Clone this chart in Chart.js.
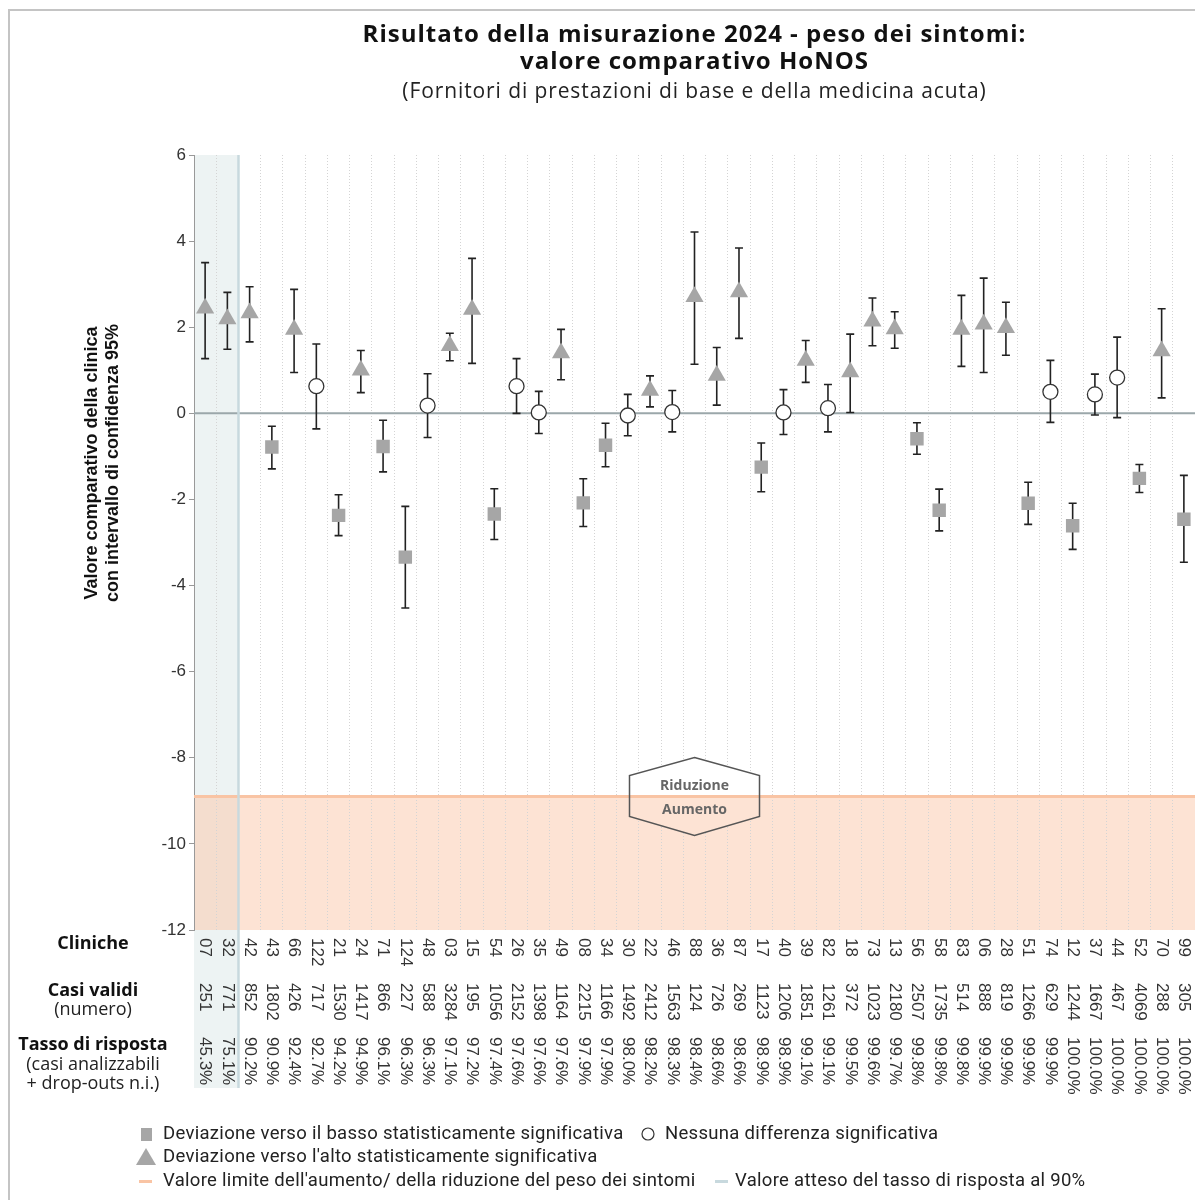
<!DOCTYPE html>
<html>
<head>
<meta charset="utf-8">
<script src="https://cdn.jsdelivr.net/npm/chart.js@4/dist/chart.umd.min.js"></script>
<style>
  body { margin: 0; background: #fff; }
  canvas { display: block; }
</style>
</head>
<body>
<canvas id="chart" width="1195" height="1200"></canvas>
<script>
// clinics, sorted by response rate
const clinics = ['07','32','42','43','66','122','21','24','71','124','48','03','15','54','26','35','49','08','34','30','22','46','88','36','87','17','40','39','82','18','73','13','56','58','83','06','28','51','74','12','37','44','52','70','99'];
const validCases = [251,771,852,1802,426,717,1530,1417,866,227,588,3284,195,1056,2152,1398,1164,2215,1166,1492,2412,1563,124,726,269,1123,1206,1851,1261,372,1023,2180,2507,1735,514,888,819,1266,629,1244,1667,467,4069,288,305];
const responseRates = [45.3,75.1,90.2,90.9,92.4,92.7,94.2,94.9,96.1,96.3,96.3,97.1,97.2,97.4,97.6,97.6,97.6,97.9,97.9,98.0,98.2,98.3,98.4,98.6,98.6,98.9,98.9,99.1,99.1,99.5,99.6,99.7,99.8,99.8,99.8,99.9,99.9,99.9,99.9,100.0,100.0,100.0,100.0,100.0,100.0];

// comparative value and 95% CI
const values = [2.44,2.19,2.33,-0.78,1.95,0.63,-2.37,1.0,-0.77,-3.34,0.18,1.57,2.41,-2.34,0.63,0.02,1.40,-2.08,-0.74,-0.05,0.53,0.03,2.71,0.88,2.82,-1.25,0.02,1.23,0.12,0.96,2.14,1.96,-0.59,-2.25,1.95,2.07,1.99,-2.09,0.50,-2.61,0.44,0.83,-1.51,1.45,-2.46];
const lower = [1.27,1.49,1.66,-1.29,0.95,-0.36,-2.84,0.48,-1.36,-4.52,-0.56,1.22,1.16,-2.93,0.0,-0.47,0.78,-2.63,-1.24,-0.52,0.15,-0.43,1.14,0.19,1.74,-1.82,-0.49,0.72,-0.43,0.02,1.57,1.51,-0.95,-2.73,1.09,0.95,1.35,-2.58,-0.21,-3.16,-0.04,-0.10,-1.84,0.36,-3.46];
const upper = [3.5,2.81,2.94,-0.30,2.88,1.61,-1.89,1.46,-0.16,-2.16,0.92,1.86,3.6,-1.75,1.27,0.51,1.95,-1.52,-0.23,0.44,0.87,0.53,4.21,1.53,3.84,-0.69,0.55,1.69,0.67,1.84,2.68,2.36,-0.22,-1.76,2.74,3.14,2.58,-1.60,1.23,-2.09,0.91,1.77,-1.19,2.43,-1.44];
const significance = ['up','up','up','down','up','none','down','up','down','down','none','up','up','down','none','none','up','down','down','none','up','none','up','up','up','down','none','up','none','up','up','up','down','down','up','up','up','down','none','down','none','none','down','up','down'];

const yTicks = [6,4,2,0,-2,-4,-6,-8,-10,-12];
const limitValue = -8.9;     // boundary increase / reduction
const expectedRate = 90;     // expected response rate

const GREY = '#a6a6a6';
const INK = '#222';
const TXT = '#333';
const PEACH = 'rgba(251,200,170,0.5)';
const ORANGE = '#f9c4a4';
const BLUE = '#c8d9de';

function pick(type) {
  return values.map((v, i) => significance[i] === type ? v : null);
}

function rateLineX(x) {
  const half = (x.getPixelForValue(1) - x.getPixelForValue(0)) / 2;
  const nLow = responseRates.filter(r => r < expectedRate).length;
  return x.getPixelForValue(nLow - 1) + half;
}

function hexPath(ctx, cx, yl, w) {
  ctx.beginPath();
  ctx.moveTo(cx, yl - 39);
  ctx.lineTo(cx + w, yl - 21);
  ctx.lineTo(cx + w, yl + 20);
  ctx.lineTo(cx, yl + 39);
  ctx.lineTo(cx - w, yl + 20);
  ctx.lineTo(cx - w, yl - 21);
  ctx.closePath();
}

const decor = {
  id: 'decor',
  beforeDraw(chart) {
    const { ctx, chartArea: a, scales: { x, y } } = chart;
    ctx.save();
    ctx.fillStyle = '#fff';
    ctx.fillRect(0, 0, chart.width, chart.height);
    // frame
    ctx.strokeStyle = '#c4c4c4';
    ctx.lineWidth = 2;
    ctx.beginPath();
    ctx.moveTo(9, chart.height);
    ctx.lineTo(9, 10);
    ctx.lineTo(chart.width, 10);
    ctx.stroke();
    // low response rate zone
    const bx = rateLineX(x);
    ctx.fillStyle = '#edf3f3';
    ctx.fillRect(a.left, a.top, bx - a.left, 1088 - a.top);
    // increase zone
    const yl = y.getPixelForValue(limitValue);
    ctx.fillStyle = PEACH;
    ctx.fillRect(a.left, yl, a.right - a.left, a.bottom - yl);
    ctx.restore();
  },
  beforeDatasetsDraw(chart) {
    const { ctx, chartArea: a, scales: { x, y } } = chart;
    ctx.save();
    // zero line
    const y0 = y.getPixelForValue(0);
    ctx.strokeStyle = '#9ba7aa';
    ctx.lineWidth = 2;
    ctx.beginPath(); ctx.moveTo(a.left, y0); ctx.lineTo(a.right, y0); ctx.stroke();
    // limit line
    const yl = y.getPixelForValue(limitValue);
    ctx.strokeStyle = ORANGE;
    ctx.lineWidth = 3;
    ctx.beginPath(); ctx.moveTo(a.left, yl); ctx.lineTo(a.right, yl); ctx.stroke();
    // expected rate line
    const bx = rateLineX(x);
    ctx.strokeStyle = BLUE;
    ctx.lineWidth = 2.5;
    ctx.beginPath(); ctx.moveTo(bx, a.top); ctx.lineTo(bx, 1088); ctx.stroke();
    // error bars
    ctx.strokeStyle = INK;
    ctx.lineWidth = 1.6;
    clinics.forEach((c, i) => {
      const px = x.getPixelForValue(i);
      const yt = y.getPixelForValue(upper[i]);
      const yb = y.getPixelForValue(lower[i]);
      ctx.beginPath();
      ctx.moveTo(px, yt); ctx.lineTo(px, yb);
      ctx.moveTo(px - 4, yt); ctx.lineTo(px + 4, yt);
      ctx.moveTo(px - 4, yb); ctx.lineTo(px + 4, yb);
      ctx.stroke();
    });
    ctx.restore();
  },
  afterDatasetsDraw(chart) {
    const { ctx, chartArea: a, scales: { y } } = chart;
    const yl = y.getPixelForValue(limitValue);
    const cx = (a.left + a.right) / 2;
    const w = 65;
    ctx.save();
    hexPath(ctx, cx, yl, w);
    ctx.clip();
    ctx.fillStyle = '#fff';
    ctx.fillRect(cx - w, yl - 40, 2 * w, 80);
    ctx.fillStyle = PEACH;
    ctx.fillRect(cx - w, yl, 2 * w, 40);
    ctx.strokeStyle = ORANGE;
    ctx.lineWidth = 3;
    ctx.beginPath(); ctx.moveTo(cx - w, yl); ctx.lineTo(cx + w, yl); ctx.stroke();
    ctx.restore();

    ctx.save();
    hexPath(ctx, cx, yl, w);
    ctx.strokeStyle = '#555';
    ctx.lineWidth = 1.5;
    ctx.stroke();
    ctx.fillStyle = '#666';
    ctx.font = 'bold 14px "Open Sans"';
    ctx.textAlign = 'center';
    ctx.textBaseline = 'middle';
    ctx.fillText('Riduzione', cx, yl - 11);
    ctx.fillText('Aumento', cx, yl + 13);
    ctx.restore();
  },
  afterDraw(chart) {
    const { ctx, chartArea: a, scales: { x } } = chart;
    const cx = (a.left + a.right) / 2;
    ctx.save();
    ctx.fillStyle = '#111';
    ctx.textAlign = 'center';
    ctx.textBaseline = 'middle';
    ctx.font = 'bold 24px "Open Sans"';
    ctx.letterSpacing = '1px';
    ctx.fillText('Risultato della misurazione 2024 - peso dei sintomi:', cx, 35);
    ctx.fillText('valore comparativo HoNOS', cx, 62);
    ctx.font = '21px "Open Sans"';
    ctx.letterSpacing = '0.9px';
    ctx.fillStyle = '#222';
    ctx.fillText('(Fornitori di prestazioni di base e della medicina acuta)', cx, 92);
    ctx.letterSpacing = '0px';

    // y axis title
    ctx.save();
    ctx.translate(102, 463);
    ctx.rotate(-Math.PI / 2);
    ctx.font = 'bold 18px "Liberation Sans"';
    ctx.fillStyle = '#111';
    ctx.fillText('Valore comparativo della clinica', 0, -10);
    ctx.fillText('con intervallo di confidenza 95%', 0, 11);
    ctx.restore();

    // row headers
    ctx.fillStyle = '#111';
    ctx.font = 'bold 18px "Open Sans"';
    ctx.fillText('Cliniche', 93, 944);
    ctx.fillText('Casi validi', 93, 991);
    ctx.fillText('Tasso di risposta', 93, 1045);
    ctx.font = '18px "Open Sans"';
    ctx.fillStyle = '#222';
    ctx.fillText('(numero)', 93, 1010);
    ctx.fillText('(casi analizzabili', 93, 1065);
    ctx.fillText('+ drop-outs n.i.)', 93, 1084);

    // column labels, rotated
    ctx.font = '17px "Liberation Sans"';
    ctx.fillStyle = TXT;
    ctx.textAlign = 'left';
    clinics.forEach((c, i) => {
      const px = x.getPixelForValue(i);
      const rows = [[c, 938], [String(validCases[i]), 983], [responseRates[i].toFixed(1) + '%', 1037]];
      rows.forEach(([t, ty]) => {
        ctx.save();
        ctx.translate(px, ty);
        ctx.rotate(Math.PI / 2);
        ctx.fillText(t, 0, 0);
        ctx.restore();
      });
    });

    // legend
    ctx.font = '18.5px Roboto';
    ctx.letterSpacing = '0.3px';
    ctx.textAlign = 'left';
    ctx.textBaseline = 'middle';
    ctx.fillStyle = GREY;
    ctx.fillRect(141, 1128, 11, 13);
    ctx.fillStyle = '#222';
    ctx.fillText('Deviazione verso il basso statisticamente significativa', 163, 1134);
    ctx.beginPath();
    ctx.arc(648, 1134, 6, 0, Math.PI * 2);
    ctx.fillStyle = '#fff'; ctx.fill();
    ctx.strokeStyle = '#333'; ctx.lineWidth = 1.2; ctx.stroke();
    ctx.fillStyle = '#222';
    ctx.fillText('Nessuna differenza significativa', 665, 1134);
    ctx.fillStyle = GREY;
    ctx.beginPath();
    ctx.moveTo(146, 1148); ctx.lineTo(156, 1165); ctx.lineTo(136, 1165); ctx.closePath();
    ctx.fill();
    ctx.fillStyle = '#222';
    ctx.fillText('Deviazione verso l\'alto statisticamente significativa', 163, 1157);
    ctx.fillStyle = ORANGE;
    ctx.fillRect(139, 1180, 13, 3);
    ctx.fillStyle = '#222';
    ctx.fillText('Valore limite dell\'aumento/ della riduzione del peso dei sintomi', 163, 1181);
    ctx.fillStyle = BLUE;
    ctx.fillRect(715, 1180, 13, 3);
    ctx.fillStyle = '#222';
    ctx.fillText('Valore atteso del tasso di risposta al 90%', 735, 1181);
    ctx.restore();
  }
};

new Chart(document.getElementById('chart'), {
  type: 'line',
  data: {
    labels: clinics,
    datasets: [
      {
        label: 'Deviazione verso il basso statisticamente significativa',
        data: pick('down'),
        showLine: false,
        pointStyle: 'rect',
        pointRadius: 9.5,
        backgroundColor: GREY,
        borderColor: GREY,
        borderWidth: 0
      },
      {
        label: 'Nessuna differenza significativa',
        data: pick('none'),
        showLine: false,
        pointStyle: 'circle',
        pointRadius: 7.5,
        backgroundColor: '#fff',
        borderColor: '#333',
        pointBorderWidth: 1.3
      },
      {
        label: 'Deviazione verso l\'alto statisticamente significativa',
        data: pick('up'),
        showLine: false,
        pointStyle: 'triangle',
        pointRadius: 10.5,
        backgroundColor: GREY,
        borderColor: GREY,
        borderWidth: 0
      }
    ]
  },
  options: {
    responsive: false,
    devicePixelRatio: 1,
    animation: false,
    layout: { autoPadding: false, padding: { top: 155, bottom: 270, left: 0, right: -2 } },
    plugins: { legend: { display: false }, title: { display: false }, tooltip: { enabled: false } },
    scales: {
      x: {
        offset: true,
        ticks: { display: false },
        grid: { offset: true, drawTicks: false, color: '#d4d4d4', borderDash: [1, 2], lineWidth: 1 },
        border: { display: false, dash: [1, 2] },
        afterFit(scale) { scale.height = 0; }
      },
      y: {
        min: -12,
        max: 6,
        afterBuildTicks(scale) { scale.ticks = yTicks.map(v => ({ value: v })); },
        ticks: { color: TXT, font: { family: 'Liberation Sans', size: 17 }, padding: 3 },
        grid: { drawOnChartArea: false, drawTicks: true, tickLength: 5, color: '#999' },
        border: { color: '#999', width: 1 },
        afterFit(scale) { scale.width = 194; }
      }
    }
  },
  plugins: [decor]
});
</script>
</body>
</html>
